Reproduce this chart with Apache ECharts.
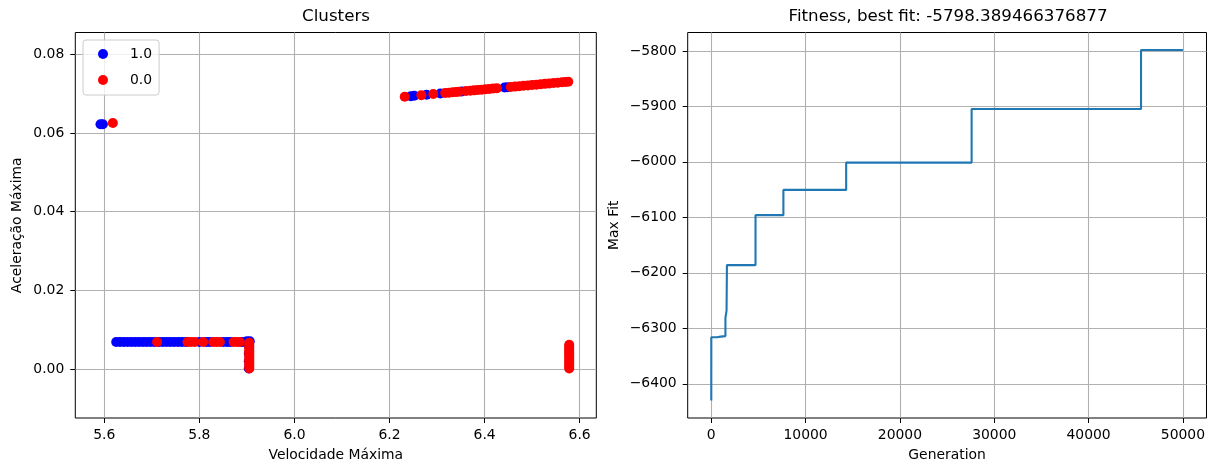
<!DOCTYPE html>
<html><head><meta charset="utf-8">
<script src="https://cdn.jsdelivr.net/npm/echarts@6/dist/echarts.min.js"></script>
<style>html,body{margin:0;padding:0;background:#fff}#c{width:1208px;height:467px}</style>
</head><body><div id="c"></div>
<script>
// ---- Left chart: Clusters (scatter) ----
const legendNames = ['1.0', '0.0'];
const xTicksLeft = [5.6, 5.8, 6.0, 6.2, 6.4, 6.6];
const yTicksLeft = [0.00, 0.02, 0.04, 0.06, 0.08];

const blueUpperLeft = [[5.592,0.0622],[5.597,0.0622]];
const redUpperLeft = [[5.618,0.0625]];

const blueUpperRight = [[6.245,0.06934],[6.252,0.06942],[6.278,0.06971],[6.307,0.07003],[6.352,0.07053],[6.442,0.07152],[6.448,0.07159]];
const redUpperRight = [[6.232,0.06920],[6.267,0.06959],[6.292,0.06986],[6.317,0.07014],[6.325,0.07023],[6.333,0.07032],[6.340,0.07039],[6.346,0.07046],[6.361,0.07063],[6.370,0.07072],[6.378,0.07081],[6.386,0.07090],[6.394,0.07099],[6.402,0.07108],[6.410,0.07117],[6.418,0.07126],[6.426,0.07134],[6.455,0.07166],[6.464,0.07176],[6.473,0.07186],[6.482,0.07196],[6.491,0.07206],[6.500,0.07216],[6.509,0.07226],[6.518,0.07236],[6.527,0.07246],[6.536,0.07256],[6.545,0.07266],[6.554,0.07276],[6.563,0.07286],[6.570,0.07293],[6.576,0.07300]];

const blueLowerRow = [[5.625,0.0069],[5.633,0.0069],[5.641,0.0069],[5.649,0.0069],[5.657,0.0069],[5.665,0.0069],[5.673,0.0069],[5.681,0.0069],[5.689,0.0069],[5.697,0.0069],[5.705,0.0069],[5.715,0.0069],[5.723,0.0069],[5.731,0.0069],[5.739,0.0069],[5.747,0.0069],[5.755,0.0069],[5.763,0.0069],[5.771,0.0069],[5.800,0.0069],[5.815,0.0069],[5.822,0.0069],[5.850,0.0069],[5.858,0.0069],[5.865,0.0069],[5.890,0.0069],[5.897,0.0069],[5.900,0.0071],[5.906,0.0071]];
const blueLowerCol = [[5.904,0.0002],[5.904,0.0020],[5.904,0.0040],[5.904,0.0060]];
const redLowerRow = [[5.711,0.0069],[5.775,0.0069],[5.782,0.0069],[5.790,0.0069],[5.808,0.0069],[5.829,0.0069],[5.836,0.0069],[5.843,0.0069],[5.872,0.0069],[5.879,0.0069],[5.885,0.0069]];
const redLowerCol = [[5.905,0.0002],[5.905,0.0007],[5.905,0.0012],[5.905,0.0017],[5.905,0.0022],[5.905,0.0027],[5.905,0.0032],[5.905,0.0037],[5.905,0.0042],[5.905,0.0047],[5.905,0.0052],[5.905,0.0057],[5.905,0.0062],[5.905,0.0067]];
const redRightCol = [[6.578,0.0002],[6.578,0.0007],[6.578,0.0012],[6.578,0.0017],[6.578,0.0022],[6.578,0.0027],[6.578,0.0032],[6.578,0.0037],[6.578,0.0042],[6.578,0.0047],[6.578,0.0052],[6.578,0.0057],[6.578,0.0062]];

// ---- Right chart: Fitness (step line) ----
const xTicksRight = [0, 10000, 20000, 30000, 40000, 50000];
const yTicksRight = [-6400, -6300, -6200, -6100, -6000, -5900, -5800];
const generations = [0, 1, 600, 1000, 1500, 1620, 1660, 4690, 7645, 14300, 27600, 45560, 50000];
const maxFit = [-6430, -6316, -6315, -6314, -6281, -6268, -6186, -6096, -6050.5, -6001.3, -5904.8, -5798.389466376877, -5798.389466376877];

const blueData = [].concat(blueUpperLeft, blueUpperRight, blueLowerRow, blueLowerCol);
const redData = [].concat(redUpperLeft, redUpperRight, redLowerRow, redLowerCol, redRightCol);
const fitData = generations.map((g, i) => [g, maxFit[i]]);

const FONT = 'DejaVu Sans';
const tickFont = {fontFamily: FONT, fontSize: 13.9, color: '#000'};
const gridLine = {show: true, lineStyle: {color: '#b0b0b0', width: 1.1}};
const tick = (vals) => ({show: true, inside: false, length: 5, lineStyle: {color: '#000', width: 1}, customValues: vals});
const minus = v => (v < 0 ? '\u2212' + Math.abs(v) : String(v));
const noLine = {show: false, onZero: false};

const chart = echarts.init(document.getElementById('c'), null, {renderer: 'canvas'});
chart.setOption({
  animation: false,
  backgroundColor: '#fff',
  title: [
    {text: 'Clusters', left: 336, top: 8, padding: 0, textAlign: 'center',
     textStyle: {fontFamily: FONT, fontSize: 16.7, fontWeight: 'normal', color: '#000'}},
    {text: 'Fitness, best fit: -5798.389466376877', left: 948, top: 8, padding: 0, textAlign: 'center',
     textStyle: {fontFamily: FONT, fontSize: 16.7, fontWeight: 'normal', color: '#000'}}
  ],
  legend: {
    data: legendNames, orient: 'vertical', left: 83, top: 40,
    padding: [7, 7, 8, 15], itemGap: 12, itemWidth: 10, itemHeight: 10,
    backgroundColor: 'rgba(255,255,255,0.8)', borderColor: '#cccccc', borderWidth: 1, borderRadius: 3,
    textStyle: {fontFamily: FONT, fontSize: 13.9, color: '#000', padding: [0, 0, 0, 17]},
    selectedMode: false
  },
  grid: [
    {left: 75.3, top: 32.5, width: 521, height: 388, show: true, borderColor: '#000', borderWidth: 1, backgroundColor: 'transparent', containLabel: false},
    {left: 687.7, top: 32.5, width: 520, height: 388, show: true, borderColor: '#000', borderWidth: 1, backgroundColor: 'transparent', containLabel: false}
  ],
  xAxis: [
    {type: 'value', gridIndex: 0, min: 5.539, max: 6.635, position: 'bottom',
     name: 'Velocidade Máxima', nameLocation: 'middle', nameGap: 30,
     nameTextStyle: {fontFamily: FONT, fontSize: 13.9, color: '#000'},
     axisLine: noLine, axisTick: tick(xTicksLeft),
     axisLabel: {customValues: xTicksLeft, formatter: v => v.toFixed(1), margin: 10, ...tickFont},
     splitLine: gridLine},
    {type: 'value', gridIndex: 1, min: -2500, max: 52500, position: 'bottom',
     name: 'Generation', nameLocation: 'middle', nameGap: 30,
     nameTextStyle: {fontFamily: FONT, fontSize: 13.9, color: '#000'},
     axisLine: noLine, axisTick: tick(xTicksRight),
     axisLabel: {customValues: xTicksRight, formatter: v => String(v), margin: 10, ...tickFont},
     splitLine: gridLine}
  ],
  yAxis: [
    {type: 'value', gridIndex: 0, min: -0.0124, max: 0.0855, position: 'left',
     name: 'Aceleração Máxima', nameLocation: 'middle', nameGap: 51,
     nameTextStyle: {fontFamily: FONT, fontSize: 13.9, color: '#000'},
     axisLine: noLine, axisTick: tick(yTicksLeft),
     axisLabel: {customValues: yTicksLeft, formatter: v => v.toFixed(2), margin: 11, ...tickFont},
     splitLine: gridLine},
    {type: 'value', gridIndex: 1, min: -6461.6, max: -5766.8, position: 'left',
     name: 'Max Fit', nameLocation: 'middle', nameGap: 66,
     nameTextStyle: {fontFamily: FONT, fontSize: 13.9, color: '#000'},
     axisLine: noLine, axisTick: tick(yTicksRight),
     axisLabel: {customValues: yTicksRight, formatter: minus, margin: 11, ...tickFont},
     splitLine: gridLine}
  ],
  series: [
    {name: '1.0', type: 'scatter', xAxisIndex: 0, yAxisIndex: 0, data: blueData,
     symbol: 'circle', symbolSize: 10, itemStyle: {color: '#0000ff', opacity: 1}},
    {name: '0.0', type: 'scatter', xAxisIndex: 0, yAxisIndex: 0, data: redData,
     symbol: 'circle', symbolSize: 10, itemStyle: {color: '#ff0000', opacity: 1}},
    {name: 'fit', type: 'line', xAxisIndex: 1, yAxisIndex: 1, data: fitData, step: 'end',
     showSymbol: false, lineStyle: {color: '#1f77b4', width: 2.1}, itemStyle: {color: '#1f77b4'}}
  ]
});
</script></body></html>
